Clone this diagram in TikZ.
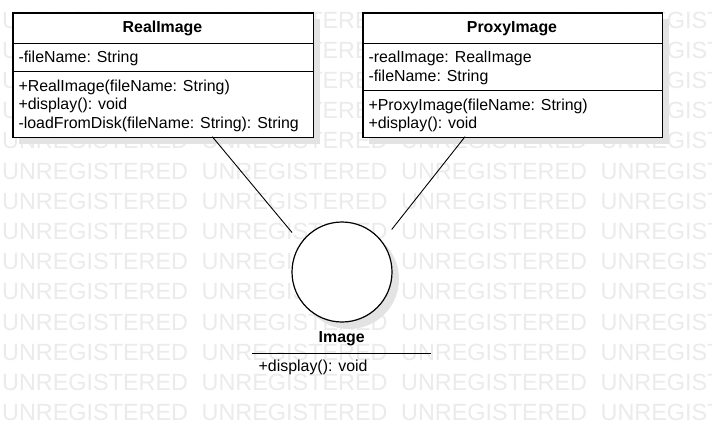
\documentclass[tikz,border=0pt]{standalone}
\usepackage{fontspec}
\setmainfont{Liberation Sans}
\begin{document}
\begin{tikzpicture}[x=1pt,y=-1pt,
  wm/.style={text=black!8, font=\fontsize{23.4}{24}\selectfont, anchor=base west, inner sep=0pt},
  box/.style={draw=black, line width=1.2pt, fill=white, inner sep=0pt, anchor=north west},
  shade/.style={fill=black!11},
  lbl/.style={anchor=base west, inner sep=0pt, font=\fontsize{15.9}{18}\selectfont},
  ttl/.style={anchor=base, inner sep=0pt, font=\fontsize{15.9}{18}\selectfont\bfseries},
  sep/.style={line width=1.2pt},
  conn/.style={line width=0.9pt}]
\useasboundingbox (0,0) rectangle (712,432);
\fill[white] (0,0) rectangle (712,432);
% watermark
\foreach \k in {0,...,13} {
  \foreach \i in {0,...,3} {
    \node[wm] (wm-\k-\i) at ({2+199.5*\i},{28+30.2*\k}) {UNREGISTERED};
  }
}
% shadows
\fill[shade] (19.3,19.3) rectangle (319.7,143.7);
\fill[shade] (369.3,19.3) rectangle (668.7,143.7);
\fill[shade] (349,279) circle[radius=50pt];
% RealImage
\node[box, minimum width=300.4pt, minimum height=124.4pt] (real) at (12.3,12.3) {};
\draw[sep] (12.3,43.3) -- (312.7,43.3);
\draw[sep] (12.3,71.7) -- (312.7,71.7);
\node[ttl] (realtitle) at (162.5,32.3) {RealImage};
\node[lbl] (realattr1) at (18.3,62.7) {-fileName: String};
\node[lbl] (realop1) at (18.3,91.7) {+RealImage(fileName: String)};
\node[lbl] (realop2) at (18.3,109.8) {+display(): void};
\node[lbl] (realop3) at (18.3,128.0) {-loadFromDisk(fileName: String): String};
% ProxyImage
\node[box, minimum width=299.4pt, minimum height=124.4pt] (proxy) at (362.3,12.3) {};
\draw[sep] (362.3,43.3) -- (661.7,43.3);
\draw[sep] (362.3,90.7) -- (661.7,90.7);
\node[ttl] (proxytitle) at (512,32.3) {ProxyImage};
\node[lbl] (proxyattr1) at (368.3,62.7) {-realImage: RealImage};
\node[lbl] (proxyattr2) at (368.3,81.0) {-fileName: String};
\node[lbl] (proxyop1) at (368.3,110.0) {+ProxyImage(fileName: String)};
\node[lbl] (proxyop2) at (368.3,128.0) {+display(): void};
% Image interface (lollipop)
\node[circle, draw=black, line width=1.2pt, fill=white, minimum size=100pt, inner sep=0pt] (image) at (342,272) {};
\node[ttl] (imagetitle) at (341.7,342.7) {Image};
\draw[sep] (252.3,353.7) -- (431,353.7);
\node[lbl] (imageop1) at (258.5,371) {+display(): void};
% connectors
\coordinate (realfoot) at (212.3,136.7);
\coordinate (realend) at (292,232.5);
\coordinate (proxyfoot) at (465,136.7);
\coordinate (proxyend) at (391.7,229.5);
\draw[conn] (realfoot) -- (realend);
\draw[conn] (proxyfoot) -- (proxyend);
\end{tikzpicture}
\end{document}
